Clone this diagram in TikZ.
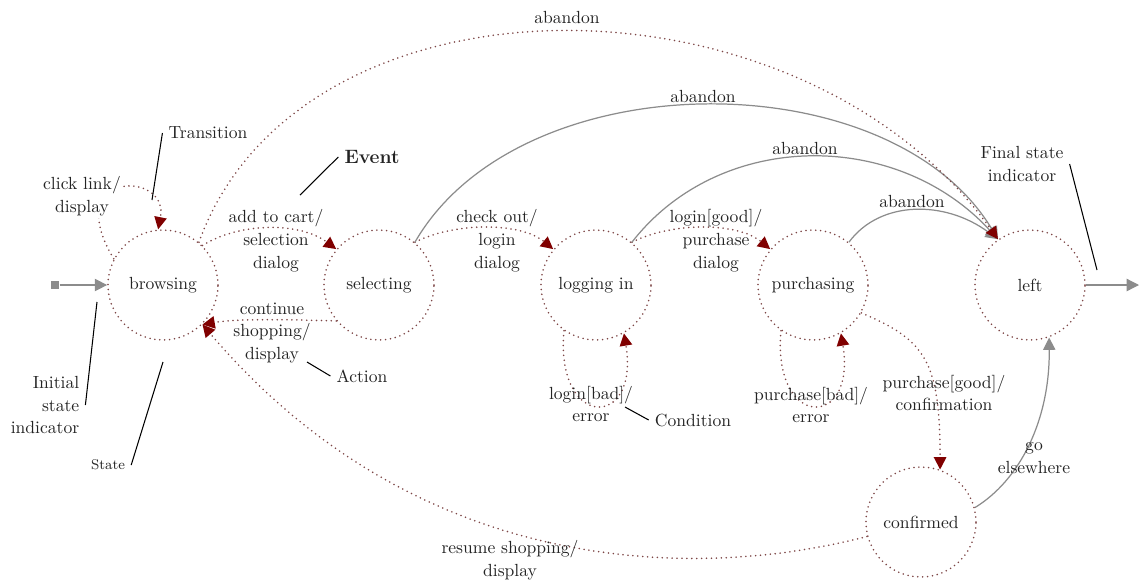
\documentclass[tikz,border=0pt]{standalone}
\usepackage{tikz}
\usetikzlibrary{arrows.meta, positioning}
\definecolor{DarkRed}{RGB}{128, 0, 0}
\definecolor{DotRed}{RGB}{125, 70, 70}
\definecolor{LineGray}{RGB}{140, 140, 140}
\definecolor{DarkText}{RGB}{35, 35, 35}
\tikzset{
  dotline/.style={draw=DotRed, line width=1pt, line cap=round, dash pattern=on 0pt off 2.8pt},
  state/.style={circle, dotline, minimum size=2.2cm, inner sep=0pt, text=DarkText},
  trans/.style={dotline, -{Triangle[length=7pt, width=7pt, color=DarkRed]}},
  solidtrans/.style={draw=LineGray, line width=0.7pt, -{Triangle[length=7pt, width=7pt, color=LineGray]}},
  note/.style={draw=black, line width=0.6pt},
  lbl/.style={align=center, text=DarkText, font=\fontsize{10}{13}\selectfont},
}

\begin{document}
\begin{tikzpicture}[x=0.02cm, y=-0.02cm]
\useasboundingbox (0,0) rectangle (1140,586);

% states
\node[state] (browsing) at (163,285) {browsing};
\node[state] (selecting) at (379,285) {selecting};
\node[state] (loggingin) at (596,285) {logging in};
\node[state] (purchasing) at (813,285) {purchasing};
\node[state] (leftst) at (1030,285) {left};
\node[state] (confirmed) at (921,522) {confirmed};

% initial and final state
\node[rectangle, fill=LineGray, minimum size=5pt, inner sep=0pt] (init) at (55,285) {};
\coordinate (final) at (1139,285);
\draw[solidtrans] (init) -- (browsing);
\draw[solidtrans] (leftst) -- (final);

% transitions
\draw[trans] (browsing.152) .. controls (60,170) and (170,170) .. (browsing.95);
\node[lbl, fill=white, inner sep=1pt] (lclick) at (82,196) {click link/\\display};

\draw[trans] (browsing.45) .. controls (240,222) and (300,222) .. (selecting.140);
\node[lbl] (laddcart) at (276,241) {add to cart/\\selection\\dialog};

\draw[trans] (selecting.220) .. controls (300,320) and (240,318) .. (browsing.-45);
\node[lbl] (lcontinue) at (272,333) {continue\\shopping/\\display};

\draw[trans] (selecting.50) .. controls (455,222) and (520,222) .. (loggingin.140);
\node[lbl] (lcheckout) at (497,241) {check out/\\login\\dialog};

\draw[trans] (loggingin.50) .. controls (672,222) and (737,222) .. (purchasing.140);
\node[lbl] (llogingood) at (716,241) {login[good]/\\purchase\\dialog};

\draw[trans] (loggingin.235) .. controls (555,430) and (640,430) .. (loggingin.-60);
\node[lbl] (lloginbad) at (591,404) {login[bad]/\\error};

\draw[trans] (purchasing.235) .. controls (772,430) and (857,430) .. (purchasing.-60);
\node[lbl] (lpurchasebad) at (811,405) {purchase[bad]/\\error};

\draw[trans] (purchasing.-30) .. controls (925,340) and (940,360) .. (confirmed.70);
\node[lbl] (lpurchasegood) at (944,393) {purchase[good]/\\confirmation};

\draw[trans] (confirmed.195) .. controls (700,580) and (420,580) .. (browsing.-45);
\node[lbl] (lresume) at (510,560) {resume shopping/\\display};

\draw[solidtrans] (confirmed.15) .. controls (1020,480) and (1050,420) .. (leftst.-70);
\node[lbl] (lgo) at (1034,458) {go\\elsewhere};

% abandon
\draw[solidtrans] (selecting.50) .. controls (520,60) and (890,60) .. (leftst.125);
\node[lbl] (labandonb) at (703,96) {abandon};
\draw[solidtrans] (loggingin.50) .. controls (720,129) and (897,129) .. (leftst.125);
\node[lbl] (labandonc) at (805,148) {abandon};
\draw[solidtrans] (purchasing.50) .. controls (880,200) and (945,200) .. (leftst.125);
\node[lbl] (labandond) at (912,201) {abandon};
\draw[trans] (browsing.50) .. controls (300,-38) and (800,-38) .. (leftst.125);
\node[lbl] (labandona) at (567,17) {abandon};

% annotations
\node[lbl] (ntransition) at (208,133) {Transition};
\coordinate (ctransition) at (152,200);
\draw[note] (ntransition.west) -- (ctransition);

\node[lbl, font=\bfseries\fontsize{11}{13}\selectfont] (nevent) at (372,157) {Event};
\coordinate (cevent) at (300,195);
\draw[note] (nevent.west) -- (cevent);

\node[lbl] (naction) at (362,376) {Action};
\coordinate (caction) at (307,362);
\draw[note] (naction.west) -- (caction);

\node[lbl, font=\footnotesize] (nstate) at (108,465) {State};
\coordinate (cstate) at (163,362);
\draw[note] (nstate.east) -- (cstate);

\node[lbl, align=right] (ninitial) at (45,405) {Initial\\state\\indicator};
\coordinate (cinitial) at (97,302);
\draw[note] (ninitial.east) -- (cinitial);

\node[lbl] (ncondition) at (693,420) {Condition};
\coordinate (ccondition) at (625,407);
\draw[note] (ncondition.west) -- (ccondition);

\node[lbl] (nfinal) at (1022,164) {Final state\\indicator};
\coordinate (cfinal) at (1097,270);
\draw[note] (nfinal.east) -- (cfinal);
\end{tikzpicture}
\end{document}
